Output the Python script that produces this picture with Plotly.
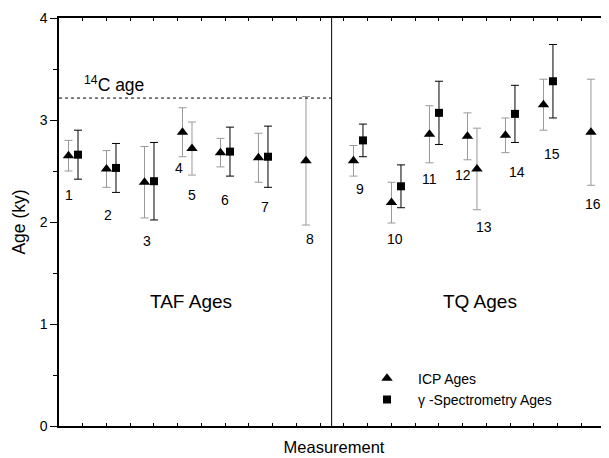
import plotly.graph_objects as go

# ICP ages (triangles)
icp_x = [0.4, 2.0, 3.6, 5.2, 5.6, 6.8, 8.4, 10.4, 12.4, 14.0, 15.6, 17.2, 17.6, 18.8, 20.4, 22.4]
icp_age = [2.65, 2.52, 2.39, 2.88, 2.72, 2.68, 2.63, 2.60, 2.60, 2.19, 2.86, 2.84, 2.52, 2.85, 3.15, 2.88]
icp_err = [0.15, 0.18, 0.35, 0.24, 0.26, 0.14, 0.24, 0.63, 0.15, 0.20, 0.28, 0.23, 0.40, 0.17, 0.25, 0.52]

# gamma-spectrometry ages (squares)
gam_x = [0.8, 2.4, 4.0, 7.2, 8.8, 12.8, 14.4, 16.0, 19.2, 20.8]
gam_age = [2.66, 2.53, 2.40, 2.69, 2.64, 2.80, 2.35, 3.07, 3.06, 3.38]
gam_err = [0.24, 0.24, 0.38, 0.24, 0.30, 0.16, 0.21, 0.31, 0.28, 0.36]

# measurement number labels
lab_text = [str(i) for i in range(1, 17)]
lab_x = [0.43, 2.08, 3.69, 5.05, 5.61, 6.99, 8.67, 10.57, 12.67, 14.15, 15.62, 17.0, 17.89, 19.27, 20.74, 22.47]
lab_y = [2.26, 2.07, 1.81, 2.53, 2.26, 2.22, 2.15, 1.83, 2.32, 1.83, 2.42, 2.46, 1.95, 2.49, 2.67, 2.18]

c14_age = 3.215
divider_x = 11.48
x_range = [0, 23.16]

FONT = "Arial, Liberation Sans, sans-serif"

fig = go.Figure()
fig.add_trace(go.Scatter(
    x=icp_x, y=icp_age, mode="markers", name="ICP Ages",
    marker=dict(symbol="triangle-up", size=10, color="black"),
    error_y=dict(type="data", array=icp_err, visible=True, color="#999999", thickness=1, width=4),
))
fig.add_trace(go.Scatter(
    x=gam_x, y=gam_age, mode="markers", name="\u03b3 -Spectrometry Ages",
    marker=dict(symbol="square", size=8, color="black"),
    error_y=dict(type="data", array=gam_err, visible=True, color="black", thickness=1, width=4),
))

for t, x, y in zip(lab_text, lab_x, lab_y):
    fig.add_annotation(x=x, y=y, text=t, showarrow=False, font=dict(size=14, color="black", family=FONT))

fig.add_annotation(x=5.56, y=1.22, text="TAF Ages", showarrow=False, font=dict(size=19, color="black", family=FONT))
fig.add_annotation(x=17.73, y=1.22, text="TQ Ages", showarrow=False, font=dict(size=19, color="black", family=FONT))
fig.add_annotation(x=0.95, y=3.35, text="<sup>14</sup>C age", showarrow=False, xanchor="left",
                   font=dict(size=17.5, color="black", family=FONT))

fig.add_shape(type="line", x0=0, x1=divider_x, y0=c14_age, y1=c14_age, xref="x", yref="y",
              line=dict(color="black", width=1, dash="dot"))
fig.add_shape(type="line", x0=divider_x, x1=divider_x, y0=0, y1=1, xref="x", yref="paper",
              line=dict(color="black", width=1))

fig.update_layout(
    width=601, height=450,
    margin=dict(l=51, r=0, t=10, b=32),
    paper_bgcolor="white", plot_bgcolor="white",
    font=dict(family=FONT, color="black", size=14),
    showlegend=True,
    legend=dict(x=0.54, y=0.155, xanchor="left", yanchor="top", bgcolor="rgba(0,0,0,0)",
                font=dict(size=14, family=FONT), tracegroupgap=0, itemwidth=52),
    xaxis=dict(range=x_range, showgrid=False, zeroline=False, showline=True, linecolor="black",
               linewidth=1.5, mirror="ticks", ticks="inside", ticklen=3, tickcolor="black", dtick=1, tick0=0,
               showticklabels=False,
               title=dict(text="Measurement", font=dict(size=16.5, family=FONT), standoff=15)),
    yaxis=dict(range=[0, 4], showgrid=False, zeroline=False, showline=True, linecolor="black",
               linewidth=1.5, ticks="outside", ticklen=7, tickcolor="black", tickvals=[0, 1, 2, 3, 4],
               tickfont=dict(size=14, family=FONT),
               minor=dict(dtick=0.5, ticks="outside", ticklen=4, tickcolor="black"),
               title=dict(text="Age (ky)", font=dict(size=17.5, family=FONT), standoff=10)),
)

fig.write_html("out.html")
